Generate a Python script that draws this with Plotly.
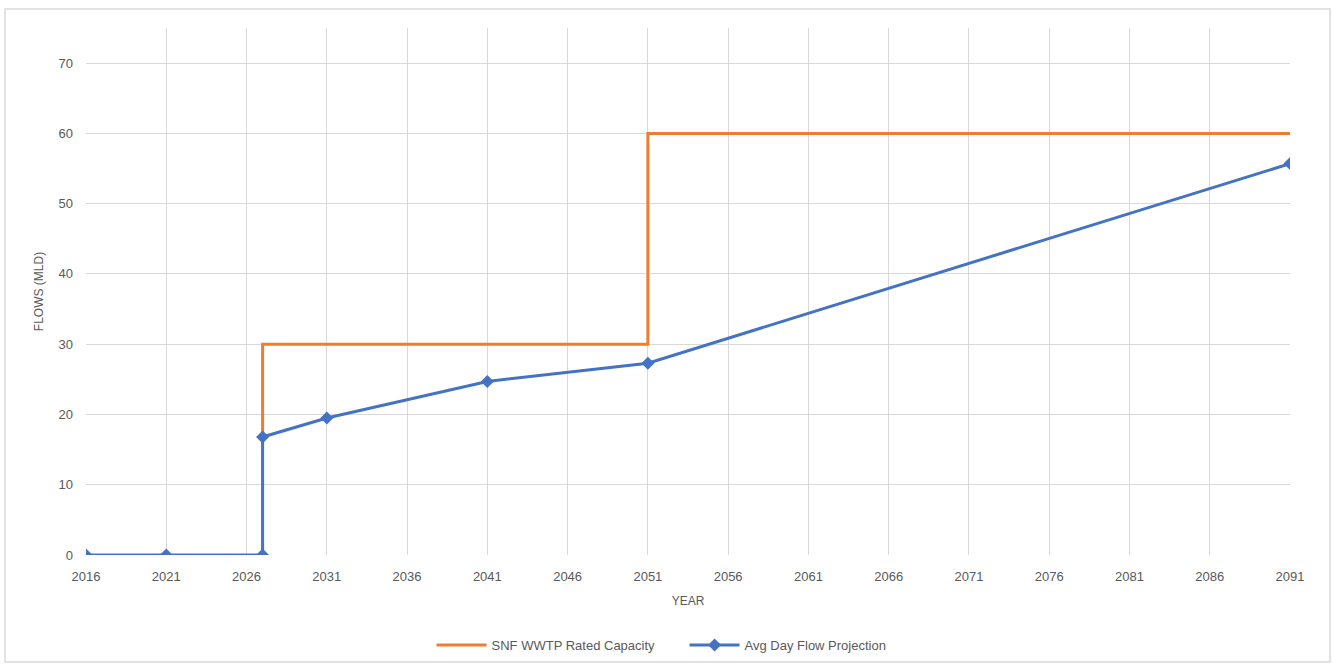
import plotly.graph_objects as go

years_flow = [2016, 2021, 2027, 2027, 2031, 2041, 2051, 2091]
flow_mld = [0, 0, 0, 16.8, 19.5, 24.7, 27.3, 55.7]

years_cap = [2027, 2027, 2051, 2051, 2091]
cap_mld = [16.8, 30, 30, 60, 60]

font_fam = "Liberation Sans, Arial, sans-serif"
grey = "#595959"

fig = go.Figure()
fig.add_trace(go.Scatter(
    x=years_cap, y=cap_mld, mode="lines", name="SNF WWTP Rated Capacity",
    line=dict(color="#ED7D31", width=3),
))
fig.add_trace(go.Scatter(
    x=years_flow, y=flow_mld, mode="lines+markers", name="Avg Day Flow Projection",
    line=dict(color="#4472C4", width=3),
    marker=dict(symbol="diamond", size=10, color="#4472C4"),
))

fig.update_layout(
    width=1333, height=664,
    margin=dict(l=86, r=43, t=28, b=109, autoexpand=False),
    paper_bgcolor="white", plot_bgcolor="white",
    font=dict(family=font_fam, size=13, color=grey),
    showlegend=True,
    legend=dict(orientation="h", x=0.287, xanchor="left",
                yref="container", y=0.0286, yanchor="middle",
                font=dict(size=13, color=grey), itemwidth=50, entrywidth=188,
                entrywidthmode="pixels"),
    xaxis=dict(range=[2016, 2091], tick0=2016, dtick=5, showgrid=True,
               gridcolor="#D9D9D9", gridwidth=1, zeroline=False, showline=False,
               automargin=False,
               ticks="", ticklabelstandoff=12, tickfont=dict(size=13, color=grey),
               title=dict(text="YEAR", font=dict(size=12, color=grey), standoff=13)),
    yaxis=dict(range=[0, 75], tick0=0, dtick=10, showgrid=True,
               gridcolor="#D9D9D9", gridwidth=1, zeroline=False, showline=False,
               automargin=False,
               ticks="", ticklabelstandoff=12, tickfont=dict(size=13, color=grey),
               title=dict(text="FLOWS (MLD)", font=dict(size=12, color=grey), standoff=12)),
    shapes=[dict(type="rect", xref="paper", yref="paper",
                 x0=-0.0673, x1=1.0332, y0=-0.203, y1=1.036,
                 line=dict(color="#D9D9D9", width=1.5), fillcolor="rgba(0,0,0,0)", layer="below")],
)

post = (
    "document.documentElement.style.margin='0';"
    "document.documentElement.style.overflow='hidden';"
    "document.body.style.margin='0';"
    "document.body.style.overflow='hidden';"
)
fig.write_html("out.html", post_script=post, config={"displayModeBar": False})
